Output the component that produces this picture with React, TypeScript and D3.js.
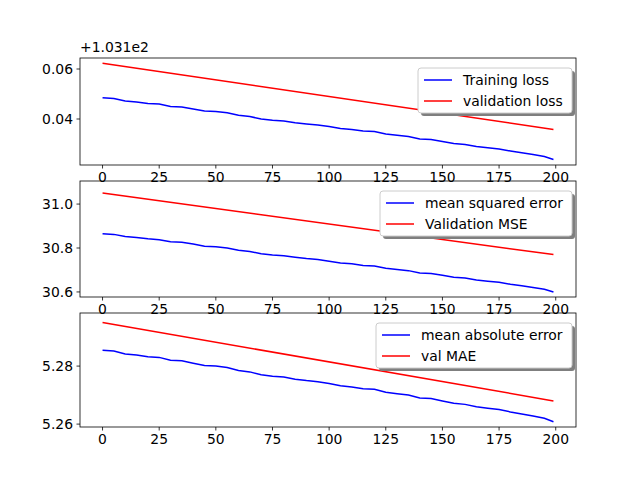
import React from "react";
import * as d3 from "d3";

const epochs = [0,5,10,15,20,25,30,35,40,45,50,55,60,65,70,75,80,85,90,95,100,105,110,115,120,125,130,135,140,145,150,155,160,165,170,175,180,185,190,195,199];
const lossTrain = [0.0485,0.0482,0.0472,0.0468,0.0462,0.0460,0.0450,0.0448,0.0440,0.0432,0.0430,0.0425,0.0415,0.0410,0.0400,0.0395,0.0392,0.0385,0.0380,0.0376,0.0370,0.0362,0.0358,0.0352,0.0350,0.0340,0.0335,0.0330,0.0320,0.0318,0.0310,0.0302,0.0298,0.0290,0.0285,0.0280,0.0272,0.0265,0.0258,0.0250,0.0238];
const mseTrain = [30.865,30.862,30.852,30.848,30.842,30.838,30.828,30.826,30.818,30.808,30.806,30.800,30.790,30.784,30.774,30.768,30.765,30.758,30.752,30.748,30.740,30.732,30.728,30.720,30.718,30.708,30.702,30.697,30.686,30.684,30.676,30.667,30.663,30.654,30.649,30.644,30.635,30.628,30.620,30.612,30.600];
const maeTrain = [5.2855,5.2852,5.2842,5.2838,5.2832,5.2830,5.2820,5.2818,5.2810,5.2802,5.2800,5.2795,5.2785,5.2780,5.2770,5.2765,5.2762,5.2755,5.2750,5.2746,5.2740,5.2732,5.2728,5.2722,5.2720,5.2710,5.2705,5.2700,5.2690,5.2688,5.2680,5.2672,5.2668,5.2660,5.2655,5.2650,5.2642,5.2635,5.2628,5.2620,5.2608];
const valEpochs = [0, 199];
const lossVal = [0.0623, 0.0358];
const mseVal = [31.05, 30.77];
const maeVal = [5.295, 5.268];

const xTicks = [0, 25, 50, 75, 100, 125, 150, 175, 200];

const panels = [
  { top: 58, bottom: 165, domain: [0.0216, 0.0644], ticks: [0.04, 0.06], fmt: ".2f", train: lossTrain, val: lossVal, names: ["Training loss", "validation loss"], legW: 154, offset: "+1.031e2" },
  { top: 181, bottom: 297, domain: [30.577, 31.105], ticks: [30.6, 30.8, 31.0], fmt: ".1f", train: mseTrain, val: mseVal, names: ["mean squared error", "Validation MSE"], legW: 192, offset: "" },
  { top: 313, bottom: 427, domain: [5.259, 5.2983], ticks: [5.26, 5.28], fmt: ".2f", train: maeTrain, val: maeVal, names: ["mean absolute error", "val MAE"], legW: 196, offset: "" },
];

const left = 80, right = 576;
const font = "DejaVu Sans, sans-serif";

export default function App() {
  const x = d3.scaleLinear().domain([-9.95, 208.95]).range([left, right]);
  return (
    <svg width={640} height={480} style={{ position: "absolute", left: 0, top: 0, fontFamily: font }}>
      <rect width={640} height={480} fill="white" />
      {panels.map((p, i) => {
        const y = d3.scaleLinear().domain(p.domain).range([p.bottom, p.top]);
        const line = d3.line<number>().x((_, j) => x(epochs[j])).y((d) => y(d));
        const vline = d3.line<number>().x((_, j) => x(valEpochs[j])).y((d) => y(d));
        const lx = right - 4 - p.legW, ly = p.top + 10 - (i === 0 ? 0 : 0);
        return (
          <g key={i}>
            <path d={line(p.train) || ""} fill="none" stroke="blue" strokeWidth={1.5} />
            <path d={vline(p.val) || ""} fill="none" stroke="red" strokeWidth={1.5} />
            <rect x={left} y={p.top} width={right - left} height={p.bottom - p.top} fill="none" stroke="black" strokeWidth={0.8} />
            {xTicks.map((t) => (
              <g key={t}>
                <line x1={x(t)} x2={x(t)} y1={p.bottom} y2={p.bottom + 3.5} stroke="black" strokeWidth={0.8} />
                <text x={x(t)} y={p.bottom + 17} fontSize={13.9} textAnchor="middle">{t}</text>
              </g>
            ))}
            {p.ticks.map((t) => (
              <g key={t}>
                <line x1={left - 3.5} x2={left} y1={y(t)} y2={y(t)} stroke="black" strokeWidth={0.8} />
                <text x={left - 7} y={y(t) + 5} fontSize={13.9} textAnchor="end">{d3.format(p.fmt)(t)}</text>
              </g>
            ))}
            {p.offset && <text x={left} y={p.top - 6} fontSize={13.9}>{p.offset}</text>}
            <g transform={`translate(${lx},${ly})`}>
              <rect x={3} y={3} width={p.legW} height={45} rx={3} fill="#7f7f7f" />
              <rect x={0} y={0} width={p.legW} height={45} rx={3} fill="white" stroke="#cccccc" strokeWidth={1} />
              {p.names.map((n, k) => (
                <g key={n}>
                  <line x1={6} x2={34} y1={12 + k * 21} y2={12 + k * 21} stroke={k === 0 ? "blue" : "red"} strokeWidth={1.5} />
                  <text x={45} y={17 + k * 21} fontSize={13.9}>{n}</text>
                </g>
              ))}
            </g>
          </g>
        );
      })}
    </svg>
  );
}
